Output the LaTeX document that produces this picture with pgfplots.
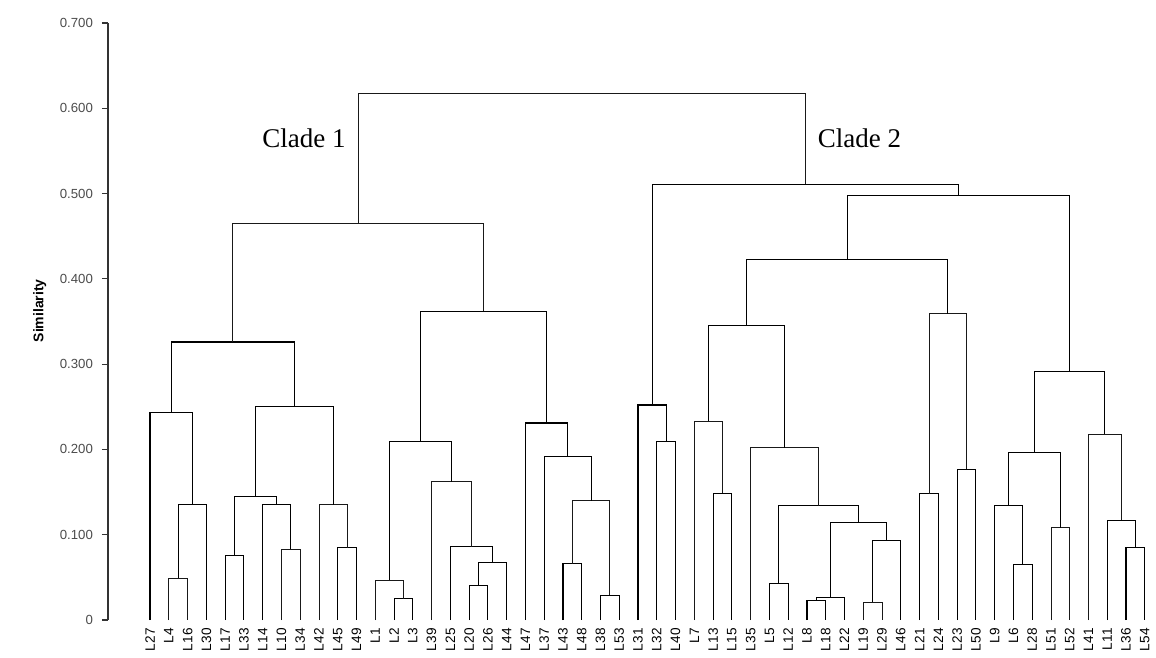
\documentclass[border=0pt]{standalone}
\usepackage{fontspec}
\setmainfont{Liberation Sans}
\newfontfamily\cladefont{Liberation Serif}
\usepackage{pgfplots}
\pgfplotsset{compat=1.18}
\begin{document}
\begin{tikzpicture}
\begin{axis}[
  scale only axis,
  width=524pt, height=298.5pt,
  xmin=-2.24, xmax=53.6,
  ymin=0, ymax=0.7,
  clip=false,
  axis y line*=left,
  axis x line*=bottom,
  x axis line style={draw=none},
  major x tick style={draw=none},
  y axis line style={line width=0.6pt, black!80},
  ytick={0,0.1,0.2,0.3,0.4,0.5,0.6,0.7},
  yticklabels={0,0.100,0.200,0.300,0.400,0.500,0.600,0.700},
  major y tick style={line width=0.6pt, black!80},
  tick align=outside,
  major tick length=3pt,
  yticklabel style={font=\fontsize{6.6}{8}\selectfont, text=black!70, xshift=-1pt},
  xtick={0,...,53},
  xticklabels={L27,L4,L16,L30,L17,L33,L14,L10,L34,L42,L45,L49,L1,L2,L3,L39,L25,L20,L26,L44,L47,L37,L43,L48,L38,L53,L31,L32,L40,L7,L13,L15,L35,L5,L12,L8,L18,L22,L19,L29,L46,L21,L24,L23,L50,L9,L6,L28,L51,L52,L41,L11,L36,L54},
  xticklabel style={font=\fontsize{6.8}{8}\selectfont, rotate=90, anchor=east, inner sep=1pt},
  /pgf/number format/assume math mode=true,
  ylabel={\textbf{Similarity}},
  ylabel style={at={(axis description cs:-0.065,0.518)}, anchor=center, font=\fontsize{7}{8}\selectfont},
  cycle list={{black!90, solid, line width=0.6pt, mark=none}},
]
% ---------- Clade 1 ----------
\addplot coordinates {(1,0) (1,0.049) (2,0.049) (2,0)};
\addplot coordinates {(1.5,0.049) (1.5,0.135) (3,0.135) (3,0)};
\addplot coordinates {(0,0) (0,0.243) (2.25,0.243) (2.25,0.135)};
\addplot coordinates {(4,0) (4,0.076) (5,0.076) (5,0)};
\addplot coordinates {(7,0) (7,0.083) (8,0.083) (8,0)};
\addplot coordinates {(6,0) (6,0.135) (7.5,0.135) (7.5,0.083)};
\addplot coordinates {(4.5,0.076) (4.5,0.145) (6.75,0.145) (6.75,0.135)};
\addplot coordinates {(10,0) (10,0.085) (11,0.085) (11,0)};
\addplot coordinates {(9,0) (9,0.135) (10.5,0.135) (10.5,0.085)};
\addplot coordinates {(5.625,0.145) (5.625,0.250) (9.75,0.250) (9.75,0.135)};
\addplot coordinates {(1.125,0.243) (1.125,0.326) (7.6875,0.326) (7.6875,0.250)};
\addplot coordinates {(13,0) (13,0.025) (14,0.025) (14,0)};
\addplot coordinates {(12,0) (12,0.047) (13.5,0.047) (13.5,0.025)};
\addplot coordinates {(17,0) (17,0.040) (18,0.040) (18,0)};
\addplot coordinates {(17.5,0.040) (17.5,0.067) (19,0.067) (19,0)};
\addplot coordinates {(16,0) (16,0.086) (18.25,0.086) (18.25,0.067)};
\addplot coordinates {(15,0) (15,0.162) (17.125,0.162) (17.125,0.086)};
\addplot coordinates {(12.75,0.047) (12.75,0.209) (16.0625,0.209) (16.0625,0.162)};
\addplot coordinates {(22,0) (22,0.066) (23,0.066) (23,0)};
\addplot coordinates {(24,0) (24,0.029) (25,0.029) (25,0)};
\addplot coordinates {(22.5,0.066) (22.5,0.140) (24.5,0.140) (24.5,0.029)};
\addplot coordinates {(21,0) (21,0.192) (23.5,0.192) (23.5,0.140)};
\addplot coordinates {(20,0) (20,0.231) (22.25,0.231) (22.25,0.192)};
\addplot coordinates {(14.40625,0.209) (14.40625,0.362) (21.125,0.362) (21.125,0.231)};
\addplot coordinates {(4.40625,0.326) (4.40625,0.465) (17.765625,0.465) (17.765625,0.362)};
% ---------- Clade 2 ----------
\addplot coordinates {(27,0) (27,0.210) (28,0.210) (28,0)};
\addplot coordinates {(26,0) (26,0.252) (27.5,0.252) (27.5,0.210)};
\addplot coordinates {(30,0) (30,0.149) (31,0.149) (31,0)};
\addplot coordinates {(29,0) (29,0.233) (30.5,0.233) (30.5,0.149)};
\addplot coordinates {(33,0) (33,0.043) (34,0.043) (34,0)};
\addplot coordinates {(35,0) (35,0.023) (36,0.023) (36,0)};
\addplot coordinates {(35.5,0.023) (35.5,0.027) (37,0.027) (37,0)};
\addplot coordinates {(38,0) (38,0.021) (39,0.021) (39,0)};
\addplot coordinates {(38.5,0.021) (38.5,0.093) (40,0.093) (40,0)};
\addplot coordinates {(36.25,0.027) (36.25,0.114) (39.25,0.114) (39.25,0.093)};
\addplot coordinates {(33.5,0.043) (33.5,0.134) (37.75,0.134) (37.75,0.114)};
\addplot coordinates {(32,0) (32,0.202) (35.625,0.202) (35.625,0.134)};
\addplot coordinates {(29.75,0.233) (29.75,0.345) (33.8125,0.345) (33.8125,0.202)};
\addplot coordinates {(41,0) (41,0.148) (42,0.148) (42,0)};
\addplot coordinates {(43,0) (43,0.177) (44,0.177) (44,0)};
\addplot coordinates {(41.5,0.148) (41.5,0.359) (43.5,0.359) (43.5,0.177)};
\addplot coordinates {(31.78125,0.345) (31.78125,0.423) (42.5,0.423) (42.5,0.359)};
\addplot coordinates {(46,0) (46,0.065) (47,0.065) (47,0)};
\addplot coordinates {(45,0) (45,0.134) (46.5,0.134) (46.5,0.065)};
\addplot coordinates {(48,0) (48,0.108) (49,0.108) (49,0)};
\addplot coordinates {(45.75,0.134) (45.75,0.197) (48.5,0.197) (48.5,0.108)};
\addplot coordinates {(52,0) (52,0.085) (53,0.085) (53,0)};
\addplot coordinates {(51,0) (51,0.117) (52.5,0.117) (52.5,0.085)};
\addplot coordinates {(50,0) (50,0.218) (51.75,0.218) (51.75,0.117)};
\addplot coordinates {(47.125,0.197) (47.125,0.291) (50.875,0.291) (50.875,0.218)};
\addplot coordinates {(37.140625,0.423) (37.140625,0.498) (49,0.498) (49,0.291)};
\addplot coordinates {(26.75,0.252) (26.75,0.511) (43.0703125,0.511) (43.0703125,0.498)};
% ---------- root ----------
\addplot coordinates {(11.0859375,0.465) (11.0859375,0.617) (34.91015625,0.617) (34.91015625,0.511)};
\node[font=\cladefont\fontsize{13.5}{15}\selectfont] at (axis cs:8.2,0.565) {Clade 1};
\node[font=\cladefont\fontsize{13.5}{15}\selectfont] at (axis cs:37.8,0.565) {Clade 2};
\end{axis}
\pgfresetboundingbox
\path[use as bounding box] ([xshift=-54pt,yshift=-19pt]current axis.south west) rectangle ([yshift=11.5pt]current axis.north east);
\end{tikzpicture}
\end{document}
